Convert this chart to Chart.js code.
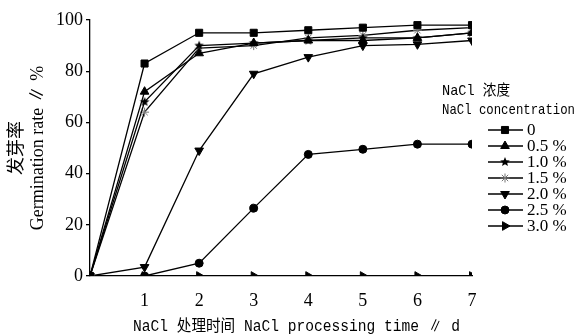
<!DOCTYPE html>
<html>
<head>
<meta charset="utf-8">
<script src="https://cdn.jsdelivr.net/npm/chart.js@4"></script>
<style>
  html, body { margin: 0; padding: 0; background: #fff; }
  #wrap { width: 579px; height: 336px; }
</style>
</head>
<body>
<div id="wrap"><canvas id="chart"></canvas></div>
<script>
// days of NaCl treatment
const days = [0, 1, 2, 3, 4, 5, 6, 7];
const seriesLabels = ['0', '0.5 %', '1.0 %', '1.5 %', '2.0 %', '2.5 %', '3.0 %'];
const rate0 = [0, 83, 95, 95, 96, 97, 98, 98];
const rate05 = [0, 72, 87, 91, 92, 92, 93, 95];
const rate10 = [0, 68, 90, 91, 92, 93, 93, 95];
const rate15 = [0, 64, 89, 90, 93, 94, 96, 97];
const rate20 = [0, 3.5, 49, 79, 85.5, 90, 90.5, 92];
const rate25 = [0, 0, 5, 26.5, 47.5, 49.5, 51.5, 51.5];
const rate30 = [0, 0, 0, 0, 0, 0, 0, 0];
const yTicks = [0, 20, 40, 60, 80, 100];

const serif = '"Liberation Serif", "Noto Sans CJK SC", serif';
const mono = '"Liberation Mono", "Noto Sans CJK SC", monospace';

// filled five-point star marker
function makeStar(r) {
  const c = document.createElement('canvas');
  c.width = c.height = r * 2 + 2;
  const g = c.getContext('2d');
  g.fillStyle = '#000';
  g.beginPath();
  for (let i = 0; i < 10; i++) {
    const rad = i % 2 === 0 ? r : r * 0.45;
    const a = -Math.PI / 2 + i * Math.PI / 5;
    g.lineTo(r + 1 + rad * Math.cos(a), r + 1 + rad * Math.sin(a));
  }
  g.closePath();
  g.fill();
  return c;
}
const starImg = makeStar(5);

const styles = [
  { pointStyle: 'rect', radius: 5, rotation: 0, color: '#000' },
  { pointStyle: 'triangle', radius: 5, rotation: 0, color: '#000' },
  { pointStyle: starImg, radius: 5, rotation: 0, color: '#000' },
  { pointStyle: 'star', radius: 4.5, rotation: 0, color: '#777' },
  { pointStyle: 'triangle', radius: 5, rotation: 180, color: '#000' },
  { pointStyle: 'circle', radius: 4, rotation: 0, color: '#000' },
  { pointStyle: 'triangle', radius: 5, rotation: 90, color: '#000' }
];

const allRates = [rate0, rate05, rate10, rate15, rate20, rate25, rate30];

const datasets = allRates.map((vals, i) => ({
  label: seriesLabels[i],
  data: days.map((d, j) => ({ x: d, y: vals[j] })),
  borderColor: '#000',
  borderWidth: 1.3,
  pointStyle: styles[i].pointStyle,
  pointRotation: styles[i].rotation,
  pointRadius: styles[i].radius,
  pointBackgroundColor: styles[i].color,
  pointBorderColor: styles[i].color,
  pointBorderWidth: 1,
  clip: 0,
  tension: 0
}));

const overlay = {
  id: 'overlay',
  afterDraw(chart) {
    const ctx = chart.ctx;
    ctx.save();
    ctx.fillStyle = '#000';
    ctx.textBaseline = 'middle';

    // x axis title
    ctx.font = '16px ' + mono;
    ctx.textAlign = 'left';
    ctx.fillText('NaCl 处理时间 NaCl processing time ∥ d', 133, 327, 327);

    // legend header
    ctx.font = '15px ' + mono;
    ctx.fillText('NaCl 浓度', 442, 91, 68);
    ctx.fillText('NaCl concentration', 442, 110, 133);

    // legend rows
    ctx.font = '17px ' + serif;
    chart.data.datasets.forEach((ds, i) => {
      const y = 130 + i * 16;
      ctx.strokeStyle = '#000';
      ctx.lineWidth = 1.5;
      ctx.beginPath();
      ctx.moveTo(488, y);
      ctx.lineTo(523, y);
      ctx.stroke();
      ctx.fillStyle = ds.pointBackgroundColor;
      ctx.strokeStyle = ds.pointBorderColor;
      ctx.lineWidth = 1;
      Chart.helpers.drawPoint(ctx, {
        pointStyle: ds.pointStyle,
        rotation: ds.pointRotation,
        radius: ds.pointRadius,
        borderWidth: 1
      }, 505, y);
      ctx.fillStyle = '#000';
      ctx.fillText(ds.label, 527, y + 1);
    });
    ctx.restore();
  }
};

new Chart(document.getElementById('chart'), {
  type: 'line',
  data: { datasets },
  options: {
    responsive: true,
    maintainAspectRatio: false,
    animation: false,
    layout: { padding: { left: 0, right: 107, top: 20, bottom: 0 } },
    plugins: { legend: { display: false }, tooltip: { enabled: false } },
    scales: {
      x: {
        type: 'linear',
        min: 0,
        max: 7,
        afterFit: s => { s.height = 60; },
        grid: { display: false },
        border: { display: true, color: '#000', width: 1.3 },
        ticks: {
          stepSize: 1,
          padding: 6,
          color: '#000',
          font: { family: serif, size: 18 },
          callback: v => (v === 0 ? '' : v)
        }
      },
      y: {
        min: 0,
        max: 100,
        afterFit: s => { s.width = 90; },
        afterBuildTicks: s => { s.ticks = yTicks.map(v => ({ value: v })); },
        grid: { display: true, drawOnChartArea: false, drawTicks: true, tickLength: 4, color: '#000', lineWidth: 1.3 },
        border: { display: true, color: '#000', width: 1.3 },
        ticks: {
          padding: 3,
          color: '#000',
          font: { family: serif, size: 18 }
        },
        title: {
          display: true,
          text: ['发芽率', 'Germination rate ∥ %'],
          color: '#000',
          font: { family: serif, size: 18 },
          padding: { top: 6, bottom: 0 }
        }
      }
    }
  },
  plugins: [overlay]
});
</script>
</body>
</html>
